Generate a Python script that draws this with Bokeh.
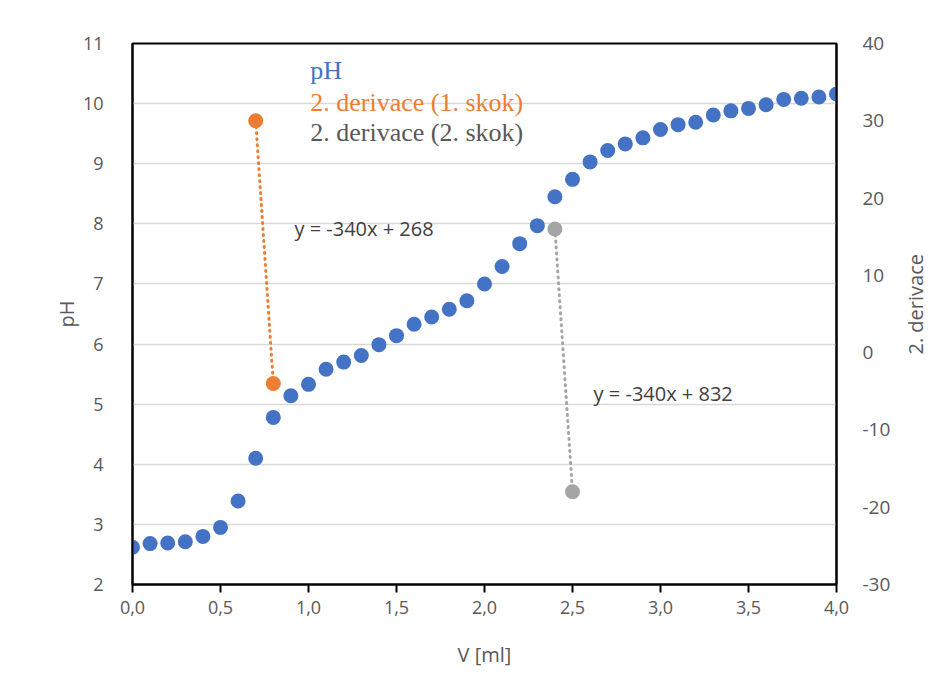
import math
from bokeh.plotting import figure
from bokeh.layouts import row
from bokeh.models import Range1d, LinearAxis, FixedTicker, Label
from bokeh.embed import file_html
from bokeh.resources import INLINE

# ---- data ----
V = [0.0, 0.1, 0.2, 0.3, 0.4, 0.5, 0.6, 0.7, 0.8, 0.9, 1.0, 1.1, 1.2, 1.3, 1.4,
     1.5, 1.6, 1.7, 1.8, 1.9, 2.0, 2.1, 2.2, 2.3, 2.4, 2.5, 2.6, 2.7, 2.8, 2.9,
     3.0, 3.1, 3.2, 3.3, 3.4, 3.5, 3.6, 3.7, 3.8, 3.9, 4.0]
pH = [2.62, 2.68, 2.69, 2.71, 2.80, 2.95, 3.39, 4.10, 4.78, 5.14, 5.33, 5.58,
      5.70, 5.81, 5.99, 6.14, 6.33, 6.45, 6.58, 6.72, 7.00, 7.29, 7.67, 7.97,
      8.45, 8.74, 9.03, 9.22, 9.33, 9.43, 9.57, 9.65, 9.69, 9.81, 9.88, 9.92,
      9.98, 10.07, 10.09, 10.11, 10.16]
skok1_V = [0.7, 0.8]
skok1_d2 = [30, -4]
skok2_V = [2.4, 2.5]
skok2_d2 = [16, -18]
x_ticks = [0.0, 0.5, 1.0, 1.5, 2.0, 2.5, 3.0, 3.5, 4.0]
x_tick_labels = ["0,0", "0,5", "1,0", "1,5", "2,0", "2,5", "3,0", "3,5", "4,0"]
y_ticks = [2, 3, 4, 5, 6, 7, 8, 9, 10, 11]
y2_ticks = [-30, -20, -10, 0, 10, 20, 30, 40]
y2_tick_labels = ["-30", "-20", "-10", "0", "10", "20", "30", "40"]
legend_labels = ["pH", "2. derivace (1. skok)", "2. derivace (2. skok)"]
right_title = "2. derivace"
eq1 = "y = -340x + 268"
eq2 = "y = -340x + 832"

BLUE = "#4472C4"
ORANGE = "#ED7D31"
GRAY = "#A5A5A5"
TXT = "#595959"
FONT = "Open Sans"

p = figure(width=900, height=695, output_backend="svg", toolbar_location=None,
           x_range=Range1d(0, 4), y_range=Range1d(2, 11),
           min_border_left=132, min_border_right=64,
           min_border_top=43, min_border_bottom=111)
p.extra_y_ranges = {"d2": Range1d(-30, 40)}

p.outline_line_color = "black"
p.outline_line_width = 2
p.border_fill_color = "white"
p.background_fill_color = "white"

p.xgrid.visible = False
p.ygrid.grid_line_color = "#d9d9d9"
p.ygrid.grid_line_width = 1.5
p.ygrid.ticker = FixedTicker(ticks=y_ticks)

# x axis
xa = p.xaxis[0]
xa.ticker = FixedTicker(ticks=x_ticks)
xa.major_label_overrides = {t: l for t, l in zip(x_ticks, x_tick_labels)}
xa.axis_label = "V [ml]"
xa.axis_line_color = "black"
xa.axis_line_width = 2
xa.major_tick_line_color = "black"
xa.major_tick_line_width = 2
xa.major_tick_out = 8
xa.major_tick_in = 0
xa.minor_tick_line_color = None
xa.major_label_text_font = FONT
xa.major_label_text_font_size = "18px"
xa.major_label_text_color = TXT
xa.major_label_standoff = 8
xa.axis_label_text_font = FONT
xa.axis_label_text_font_size = "20px"
xa.axis_label_text_font_style = "normal"
xa.axis_label_text_color = TXT
xa.axis_label_standoff = 24

# left axis
ya = p.yaxis[0]
ya.ticker = FixedTicker(ticks=y_ticks)
ya.axis_label = "pH"
ya.axis_line_color = "black"
ya.axis_line_width = 2
ya.major_tick_line_color = None
ya.minor_tick_line_color = None
ya.major_label_text_font = FONT
ya.major_label_text_font_size = "18px"
ya.major_label_text_color = TXT
ya.major_label_standoff = 23
ya.axis_label_text_font = FONT
ya.axis_label_text_font_size = "20px"
ya.axis_label_text_font_style = "normal"
ya.axis_label_text_color = TXT
ya.axis_label_standoff = 0

# right axis (ticks only; its title sits in a narrow companion canvas)
ra = LinearAxis(y_range_name="d2", ticker=FixedTicker(ticks=y2_ticks))
ra.major_label_overrides = {t: l for t, l in zip(y2_ticks, y2_tick_labels)}
ra.axis_line_color = "black"
ra.axis_line_width = 2
ra.major_tick_line_color = None
ra.minor_tick_line_color = None
ra.major_label_text_font = FONT
ra.major_label_text_font_size = "19px"
ra.major_label_text_color = TXT
ra.major_label_standoff = 20
p.add_layout(ra, "right")

# series
p.scatter(V, pH, size=15, color=BLUE, line_color=None)
p.line(skok1_V, skok1_d2, y_range_name="d2", line_color=ORANGE, line_width=3,
       line_dash="1 5", line_cap="round")
p.scatter(skok1_V, skok1_d2, y_range_name="d2", size=15, color=ORANGE, line_color=None)
p.line(skok2_V, skok2_d2, y_range_name="d2", line_color=GRAY, line_width=3,
       line_dash="1 5", line_cap="round")
p.scatter(skok2_V, skok2_d2, y_range_name="d2", size=15, color=GRAY, line_color=None)

# legend as colored text
for txt, col, yy in zip(legend_labels, [BLUE, ORANGE, TXT], [10.55, 10.02, 9.52]):
    p.add_layout(Label(x=1.01, y=yy, text=txt, text_color=col,
                       text_font="Liberation Serif", text_font_size="26px",
                       text_baseline="middle", text_align="left"))

# trendline equations
p.add_layout(Label(x=0.92, y=7.92, text=eq1, text_color="#404040",
                   text_font=FONT, text_font_size="20px",
                   text_baseline="middle"))
p.add_layout(Label(x=2.62, y=5.18, text=eq2, text_color="#404040",
                   text_font=FONT, text_font_size="20px",
                   text_baseline="middle"))

# companion canvas holding the right-axis title (reads bottom-to-top)
t = figure(width=47, height=695, output_backend="svg", toolbar_location=None,
           x_range=Range1d(0, 47), y_range=Range1d(0, 695),
           x_axis_location=None, y_axis_location=None, min_border=0)
t.outline_line_color = None
t.grid.visible = False
t.border_fill_color = "white"
t.background_fill_color = "white"
t.add_layout(Label(x=15, y=360, text=right_title, angle=math.pi / 2,
                   text_align="center", text_baseline="middle",
                   text_font=FONT, text_font_size="20px", text_color=TXT))

layout = row(p, t, spacing=0)
open("out.html", "w").write(file_html(layout, INLINE))
